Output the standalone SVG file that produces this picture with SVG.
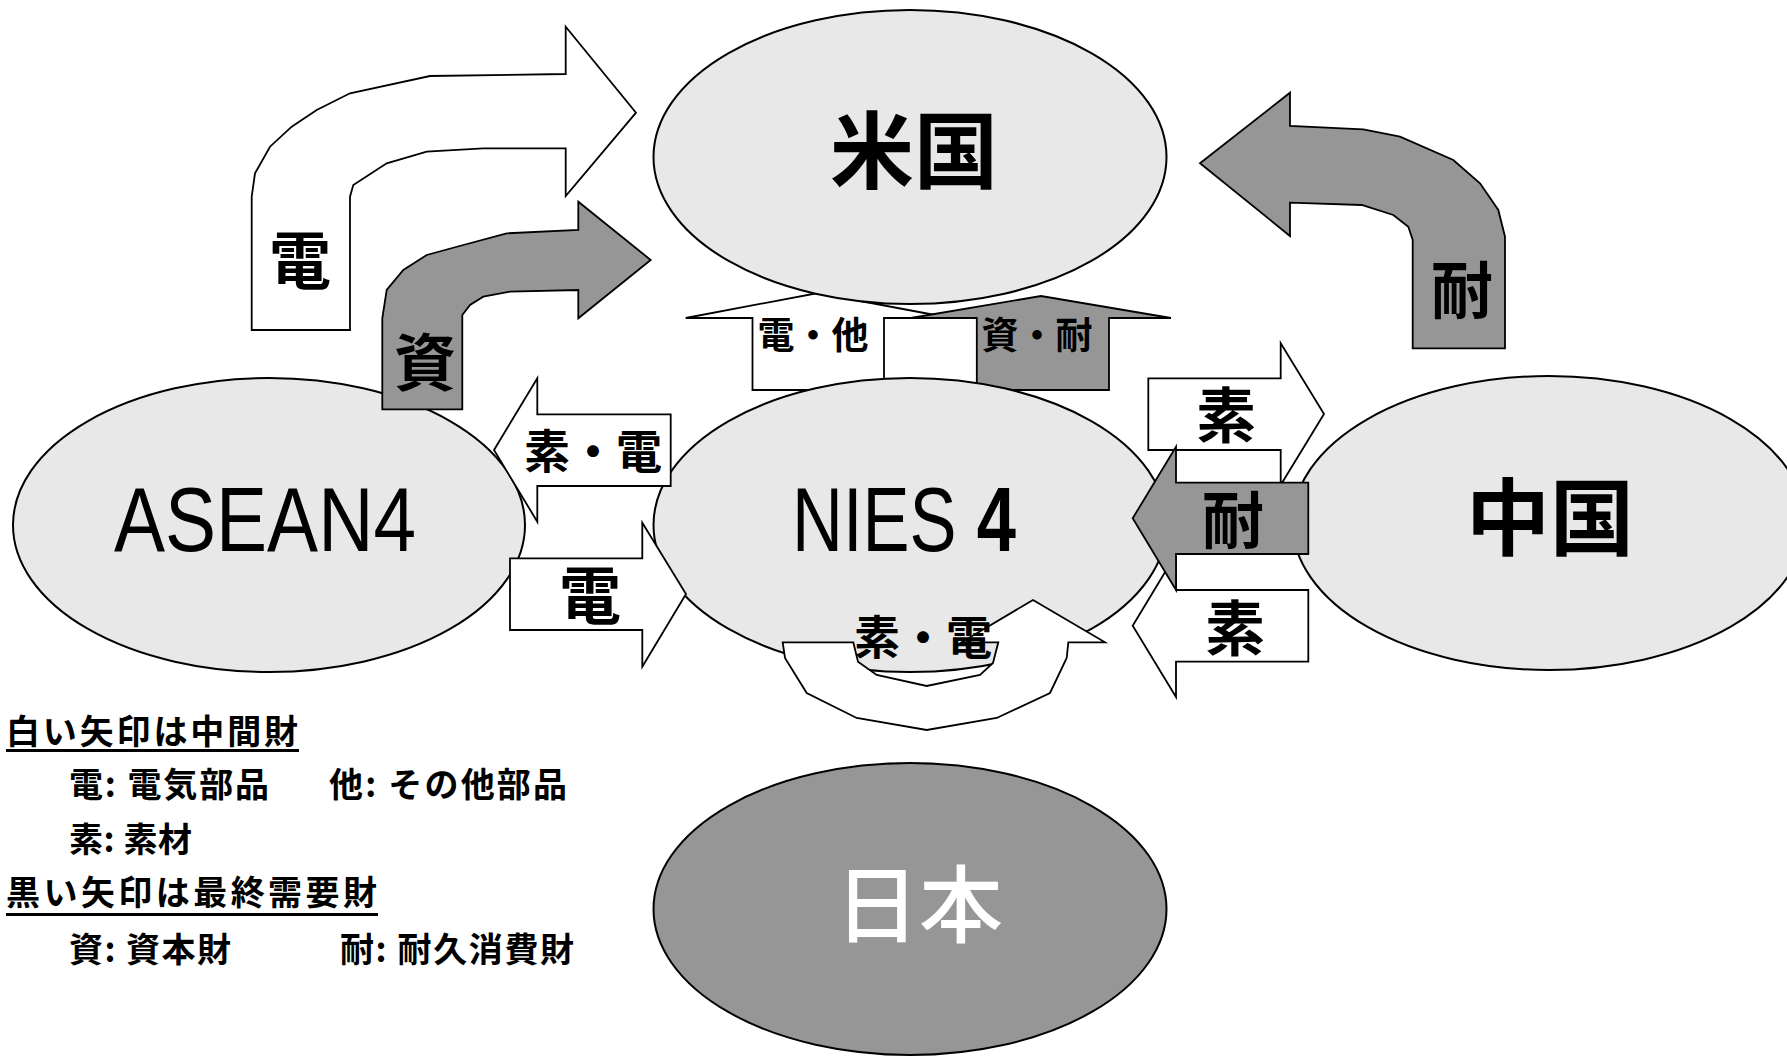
<svg xmlns="http://www.w3.org/2000/svg" width="1787" height="1057" viewBox="0 0 1787 1057">
<style>
  .node{fill:#e8e8e8;stroke:#000;stroke-width:2}
  .dark{fill:#969696;stroke:#000;stroke-width:2}
  .wa{fill:#fff;stroke:#000;stroke-width:1.8;stroke-linejoin:miter}
  .ga{fill:#969696;stroke:#000;stroke-width:1.8;stroke-linejoin:miter}
  .lbl{font-family:"Noto Sans CJK JP",sans-serif;font-weight:bold;fill:#000;text-anchor:middle}
  .big{font-family:"Noto Sans CJK JP",sans-serif;font-size:84px;text-anchor:middle}
  .lat{font-family:"Liberation Sans",Arial,sans-serif;font-size:91px;fill:#000}
  .leg{font-family:"Noto Sans CJK JP",sans-serif;font-weight:bold;font-size:34px;fill:#000}
</style>
<rect width="1787" height="1057" fill="#fff"/>

<g id="connectors-up">
  <path class="wa" d="M752.5,390 L752.5,318 L685.7,318 L818,293 L950.8,318 L884,318 L884,390 Z"/>
  <path class="ga" d="M976.8,390 L976.8,318 L910.7,318 L1041,296 L1171,318 L1109,318 L1109,390 Z"/>
</g>

<g id="node-usa"><ellipse class="node" cx="910" cy="157" rx="256.5" ry="147"/>
  <text class="big" x="914" y="182" font-weight="bold">米国</text></g>
<g id="node-asean"><ellipse class="node" cx="269" cy="525" rx="256" ry="147"/>
  <text class="lat" x="114" y="551" textLength="302" lengthAdjust="spacingAndGlyphs">ASEAN4</text></g>
<g id="node-nies"><ellipse class="node" cx="910" cy="525" rx="256.5" ry="147"/>
  <text class="lat" transform="translate(792,551) scale(0.775,1)">NIES<tspan dx="26" font-weight="bold">4</tspan></text></g>
<g id="node-china"><ellipse class="node" cx="1549" cy="523" rx="256.5" ry="147"/>
  <text class="big" x="1550" y="549" font-weight="bold">中国</text></g>
<g id="node-japan"><ellipse class="dark" cx="910" cy="909" rx="256.5" ry="146"/>
  <text class="big" x="919" y="936" fill="#fff" font-weight="500">日本</text></g>

<g id="connectors">
  <path class="wa" d="M251.7,330 L251.7,196.7 L255,173.3 L270,146.7 L291.7,126.7 L316.7,110 L350,93.3 L430,76 L565.7,74 L565.7,26.7 L636,112.7 L565.7,196 L565.7,148.3 L483.3,148.3 L426.7,151.7 L386.7,163.3 L353.3,185 L350,196.7 L350,330 Z"/>
  <path class="ga" d="M382.3,409.3 L382.3,318.3 L386.7,290 L403.3,270 L426.7,255 L463.3,245 L506.7,233.3 L578.3,230 L578.3,201.7 L650.7,260 L578.3,318.3 L578.3,290 L510,291.7 L483.3,296.7 L470,305 L462.3,315 L462.3,409.3 Z"/>
  <path class="ga" d="M1200,163.3 L1290,92.7 L1290,126 L1363.3,129.3 L1400,136.7 L1453.3,160 L1480,183.3 L1498.3,210 L1505,236.7 L1505,348.3 L1412.7,348.3 L1412.7,240 L1408.3,226.7 L1393.3,215 L1361.7,205 L1290,202.7 L1290,236 Z"/>
  <path class="wa" d="M494,450 L537.3,378.3 L537.3,414.3 L670.7,414.3 L670.7,486 L537.3,486 L537.3,521.7 Z"/>
  <path class="wa" d="M510,558.3 L642.3,558.3 L642.3,522.7 L686,594 L642.3,666.7 L642.3,630 L510,630 Z"/>
  <path class="wa" d="M1148.3,378.3 L1280.7,378.3 L1280.7,343.3 L1324,414 L1280.7,485 L1280.7,450 L1148.3,450 Z"/>
  <path class="wa" d="M1132.7,625.8 L1176,554 L1176,590 L1308.3,590 L1308.3,661.7 L1176,661.7 L1176,697 Z"/>
  <path class="ga" d="M1132.7,518.3 L1176,446.7 L1176,482.7 L1308.3,482.7 L1308.3,554 L1176,554 L1176,590 Z"/>
  <path class="wa" d="M782.7,642.3 L785,658 L806.7,693 L856.7,718 L926.7,730 L996.7,718 L1050,693 L1066.7,658 L1068.3,642.3 L1105,642.3 L1033,600 L961.6,642.3 L998.3,642.3 L993,663 L980,675 L926.7,686 L876.7,675 L858,661.7 L853.3,642.3 Z"/>
</g>

<g id="labels">
  <text class="lbl" x="300" y="284" font-size="62">電</text>
  <text class="lbl" x="425" y="386" font-size="62">資</text>
  <text class="lbl" x="1462" y="314" font-size="62">耐</text>
  <text class="lbl" x="813" y="349" font-size="37">電・他</text>
  <text class="lbl" x="1037" y="349" font-size="37">資・耐</text>
  <text class="lbl" x="593" y="468" font-size="46">素・電</text>
  <text class="lbl" x="590" y="619" font-size="62">電</text>
  <text class="lbl" x="1226" y="438" font-size="60">素</text>
  <text class="lbl" x="1233" y="544" font-size="62">耐</text>
  <text class="lbl" x="1235" y="651" font-size="60">素</text>
  <text class="lbl" x="923" y="654" font-size="46">素・電</text>
</g>

<g id="legend">
  <text class="leg" x="6" y="744" textLength="292">白い矢印は中間財</text>
  <line x1="6" y1="750.5" x2="299" y2="750.5" stroke="#000" stroke-width="3"/>
  <text class="leg" x="69" y="797" textLength="200">電: 電気部品</text>
  <text class="leg" x="329" y="797" textLength="238">他: その他部品</text>
  <text class="leg" x="69" y="852" textLength="123">素: 素材</text>
  <text class="leg" x="6" y="905" textLength="371">黒い矢印は最終需要財</text>
  <line x1="6" y1="914.5" x2="378" y2="914.5" stroke="#000" stroke-width="3"/>
  <text class="leg" x="69" y="962" textLength="162">資: 資本財</text>
  <text class="leg" x="340" y="962" textLength="234">耐: 耐久消費財</text>
</g>
</svg>
